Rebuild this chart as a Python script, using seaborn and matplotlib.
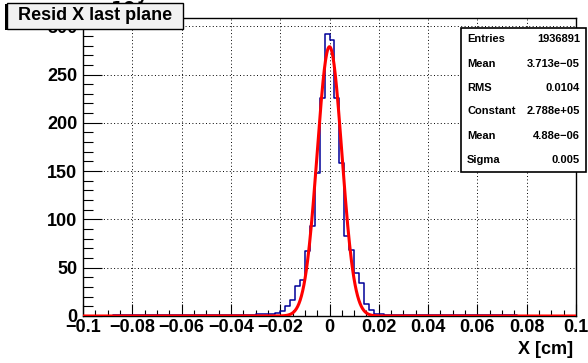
import numpy as np
import pandas as pd
import seaborn as sns
import matplotlib
matplotlib.use("Agg")
import matplotlib.pyplot as plt
from matplotlib.patches import Rectangle
from matplotlib.ticker import MultipleLocator

sns.set_theme(style="white")
plt.rcParams['font.family'] = ['Liberation Sans', 'DejaVu Sans']

# ---------------- data ----------------
x_min, x_max, bin_width = -0.1, 0.1, 0.002
# bin contents (x10^3 entries), 100 bins from -0.1 to 0.1
counts_left_tail = [0.4, 0.4, 0.5, 0.5, 0.5, 0.5, 0.6, 0.6, 0.6, 0.6,
                    0.7, 0.7, 0.7, 0.7, 0.8, 0.8, 0.8, 0.8, 0.9, 0.9,
                    0.9, 1.0, 1.0, 1.0, 1.1, 1.1, 1.1, 1.2, 1.2, 1.2,
                    1.3, 1.3, 1.4, 1.4, 1.5, 1.6, 1.8, 2.0, 2.2, 2.6]
counts_core = [5.5, 10, 17, 31, 37, 67, 93, 148, 226, 292,
               286, 226, 158, 83, 68, 44, 34, 12, 6, 2.5]
counts_right_tail = [1.6, 1.4, 1.3, 1.3, 1.2, 1.2, 1.2, 1.1, 1.1, 1.1,
                     1.0, 1.0, 1.0, 0.9, 0.9, 0.9, 0.8, 0.8, 0.8, 0.8,
                     0.7, 0.7, 0.7, 0.7, 0.6, 0.6, 0.6, 0.6, 0.5, 0.5,
                     0.5, 0.5, 0.5, 0.4, 0.4, 0.4, 0.4, 0.4, 0.4, 0.4]
counts = counts_left_tail + counts_core + counts_right_tail

# gaussian fit parameters (from stats box)
fit_constant = 278.8   # x10^3
fit_mean = 4.88e-06
fit_sigma = 0.005

stats_labels = ["Entries", "Mean", "RMS", "Constant", "Mean", "Sigma"]
stats_values = ["1936891", "3.713e\u221205", "0.0104", "2.788e+05", "4.88e\u221206", "0.005"]

x_ticks = [-0.1, -0.08, -0.06, -0.04, -0.02, 0, 0.02, 0.04, 0.06, 0.08, 0.1]
x_tick_labels = ["\u22120.1", "\u22120.08", "\u22120.06", "\u22120.04", "\u22120.02", "0",
                 "0.02", "0.04", "0.06", "0.08", "0.1"]
y_ticks = [0, 50, 100, 150, 200, 250, 300]

title = "Resid X last plane"
x_label = "X [cm]"

# ---------------- build ----------------
n_bins = len(counts)
centers = x_min + bin_width * (np.arange(n_bins) + 0.5)
df = pd.DataFrame({"x": centers, "w": counts})

fx = np.linspace(x_min, x_max, 800)
fy = fit_constant * np.exp(-0.5 * ((fx - fit_mean) / fit_sigma) ** 2)
fdf = pd.DataFrame({"x": fx, "y": fy})

W, H = 588, 363
fig = plt.figure(figsize=(W / 100, H / 100), dpi=100)
fig.patch.set_facecolor("white")
L, R, T, B = 83, 576, 18, 316
ax = fig.add_axes([L / W, 1 - B / H, (R - L) / W, (B - T) / H])
ax.set_facecolor("white")

sns.histplot(data=df, x="x", weights="w", bins=n_bins, binrange=(x_min, x_max),
             element="step", fill=False, color="#000099", linewidth=1.1, ax=ax, zorder=3)
sns.lineplot(data=fdf, x="x", y="y", color="#ff0000", linewidth=2.2, ax=ax, zorder=4)

ax.set_xlim(x_min, x_max)
ax.set_ylim(0, 308.5)
ax.set_xlabel("")
ax.set_ylabel("")

ax.set_xticks(x_ticks)
ax.set_xticklabels(x_tick_labels)
ax.set_yticks(y_ticks)
ax.xaxis.set_minor_locator(MultipleLocator(0.005))
ax.yaxis.set_minor_locator(MultipleLocator(10))

for lab in ax.get_xticklabels() + ax.get_yticklabels():
    lab.set_fontweight("bold")
    lab.set_fontsize(13)
    lab.set_color("black")

ax.tick_params(axis="x", which="major", direction="in", length=9, width=0.8,
               color="black", pad=2, top=False, bottom=True)
ax.tick_params(axis="x", which="minor", direction="in", length=4.5, width=0.8,
               color="black", top=False, bottom=True)
ax.tick_params(axis="y", which="major", direction="in", length=14, width=0.8,
               color="black", pad=4, left=True, right=False)
ax.tick_params(axis="y", which="minor", direction="in", length=7, width=0.8,
               color="black", left=True, right=False)

ax.grid(True, which="major", color="black", linestyle=(0, (1, 2.5)), linewidth=0.7)
ax.set_axisbelow(True)
for s in ax.spines.values():
    s.set_visible(True)
    s.set_color("black")
    s.set_linewidth(1.0)

# x axis label
fig.text(573 / W, 1 - 349 / H, x_label, ha="right", va="center",
         fontsize=13, fontweight="bold", color="black")

# exponent label (mostly hidden behind title)
fig.text(95 / W, 1 - 9 / H, r"$\mathbf{\times10^{3}}$", ha="left", va="center",
         fontsize=13, color="black")

# title box
fig.add_artist(Rectangle((5 / W, 1 - 30 / H), 176 / W, 26 / H,
                         transform=fig.transFigure, facecolor="black",
                         edgecolor="black", lw=0, zorder=5))
fig.add_artist(Rectangle((7 / W, 1 - 29 / H), 176 / W, 26 / H,
                         transform=fig.transFigure, facecolor="#f2f2f2",
                         edgecolor="black", lw=1, zorder=6))
fig.text(95 / W, 1 - 16 / H, title, ha="center", va="center", fontsize=13,
         fontweight="bold", color="black", zorder=7)

# stats box
fig.add_artist(Rectangle((461 / W, 1 - 172 / H), (586 - 461) / W, (172 - 28) / H,
                         transform=fig.transFigure, facecolor="white",
                         edgecolor="black", lw=1.2, zorder=6))
row_y = [39.5, 64, 88, 111, 136, 159.5]
for lab, val, yy in zip(stats_labels, stats_values, row_y):
    fig.text(467 / W, 1 - yy / H, lab, ha="left", va="center", fontsize=8,
             fontweight="bold", color="black", zorder=7)
    fig.text(580 / W, 1 - yy / H, val, ha="right", va="center", fontsize=8,
             fontweight="bold", color="black", zorder=7)

fig.savefig("out.png", dpi=100)
